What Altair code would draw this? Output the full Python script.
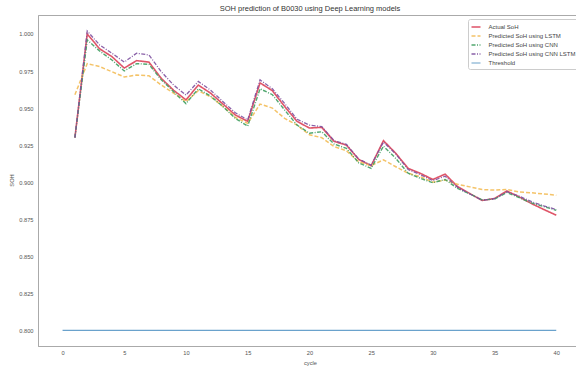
import altair as alt
import pandas as pd

# Battery B0030: measured state of health and three model predictions per cycle
cycles = list(range(1, 41))

actual_soh = [0.930, 1.000, 0.990, 0.9847, 0.977, 0.982, 0.981, 0.970, 0.962, 0.9555,
              0.9655, 0.960, 0.9527, 0.9453, 0.941, 0.967, 0.9617, 0.951, 0.941, 0.9365,
              0.937, 0.9275, 0.925, 0.9153, 0.911, 0.928, 0.9194, 0.9093, 0.9059, 0.9018,
              0.9054, 0.897, 0.8923, 0.8876, 0.889, 0.894, 0.890, 0.8855, 0.8815, 0.8777]

lstm_soh = [0.959, 0.980, 0.978, 0.9745, 0.971, 0.9723, 0.9718, 0.9655, 0.960, 0.9543,
            0.9617, 0.9576, 0.951, 0.9437, 0.9397, 0.9527, 0.950, 0.943, 0.9385, 0.932,
            0.930, 0.924, 0.9212, 0.9137, 0.9112, 0.915, 0.9104, 0.906, 0.9036, 0.900,
            0.9014, 0.8986, 0.8968, 0.895, 0.8946, 0.895, 0.8934, 0.8928, 0.892, 0.8912]

cnn_soh = [0.930, 0.996, 0.9885, 0.9824, 0.975, 0.980, 0.9795, 0.969, 0.961, 0.953,
           0.963, 0.958, 0.951, 0.943, 0.9378, 0.963, 0.959, 0.9486, 0.9385, 0.933,
           0.934, 0.9257, 0.9228, 0.913, 0.9093, 0.9243, 0.916, 0.906, 0.9025, 0.8996,
           0.9018, 0.8957, 0.892, 0.888, 0.8885, 0.893, 0.8895, 0.886, 0.8835, 0.881]

cnn_lstm_soh = [0.930, 1.002, 0.9926, 0.987, 0.981, 0.987, 0.9858, 0.9745, 0.9655, 0.9588,
                0.968, 0.962, 0.9543, 0.9468, 0.942, 0.969, 0.963, 0.953, 0.9424, 0.9385,
                0.9375, 0.928, 0.9255, 0.9155, 0.9115, 0.927, 0.919, 0.9085, 0.905, 0.901,
                0.904, 0.8965, 0.892, 0.8878, 0.8888, 0.8935, 0.8905, 0.8868, 0.884, 0.8815]

threshold_cycles = [0, 40]
threshold_soh = [0.8, 0.8]

series_names = ["Actual SoH", "Predicted SoH using LSTM", "Predicted SoH using CNN",
                "Predicted SoH using CNN LSTM", "Threshold"]
series_colors = ["#dc4258", "#f3bd58", "#3f9e60", "#7d509e", "#5a98c6"]
series_dashes = [[1, 0], [4, 2], [4, 1.5, 1, 1.5], [4, 1.5, 1, 1.5], [1, 0]]
series_widths = [1.6, 1.2, 1.2, 1.2, 1.2]

y_ticks = [0.800, 0.825, 0.850, 0.875, 0.900, 0.925, 0.950, 0.975, 1.000]
x_ticks = [0, 5, 10, 15, 20, 25, 30, 35, 40]

frames = []
for name, xs, ys in [
    (series_names[0], cycles, actual_soh),
    (series_names[1], cycles, lstm_soh),
    (series_names[2], cycles, cnn_soh),
    (series_names[3], cycles, cnn_lstm_soh),
    (series_names[4], threshold_cycles, threshold_soh),
]:
    frames.append(pd.DataFrame({"cycle": xs, "SOH": ys, "series": name}))
data = pd.concat(frames, ignore_index=True)
data["order"] = data["series"].map({n: i for i, n in enumerate(series_names)})

font = "Liberation Sans"
txt = "#555555"

legend_cfg = dict(title=None, orient="none", legendX=430, legendY=4)

chart = alt.Chart(data).mark_line(clip=True, opacity=0.9).encode(
    x=alt.X("cycle:Q",
            scale=alt.Scale(domain=[-1.99, 41.6], nice=False, zero=False),
            axis=alt.Axis(values=x_ticks, format="d", title="cycle",
                          titleX=272, titleY=13)),
    y=alt.Y("SOH:Q",
            scale=alt.Scale(domain=[0.7894, 1.0128], nice=False, zero=False),
            axis=alt.Axis(values=y_ticks, format=".3f", title="SOH",
                          titleX=-24, titleY=165)),
    color=alt.Color("series:N",
                    scale=alt.Scale(domain=series_names, range=series_colors),
                    legend=alt.Legend(**legend_cfg)),
    strokeDash=alt.StrokeDash("series:N",
                              scale=alt.Scale(domain=series_names, range=series_dashes),
                              legend=alt.Legend(**legend_cfg)),
    strokeWidth=alt.StrokeWidth("series:N",
                                scale=alt.Scale(domain=series_names, range=series_widths),
                                legend=None),
    detail="order:O",
).properties(
    width=538,
    height=331,
    title=alt.TitleParams(
        "SOH prediction of B0030 using Deep Learning models",
        fontSize=7.5, fontWeight="normal", color="#333333", font=font,
        anchor="middle", offset=3, dx=3,
    ),
    autosize=alt.AutoSizeParams(type="none"),
    padding={"left": 38, "top": 15, "right": 0, "bottom": 23},
).configure(
    background="white",
).configure_view(
    stroke="#aaaaaa", strokeWidth=1,
).configure_axis(
    grid=False, ticks=False, domainColor="#aaaaaa", domainWidth=1,
    labelFont=font, labelFontSize=5.7, labelColor=txt,
    titleFont=font, titleFontSize=5.7, titleFontWeight="normal", titleColor=txt,
).configure_axisY(
    labelPadding=5,
).configure_axisX(
    labelPadding=3,
).configure_legend(
    fillColor="white", strokeColor="#cccccc", padding=2.5, cornerRadius=2,
    labelFont=font, labelFontSize=6, labelColor="#444444",
    symbolType="stroke", symbolSize=81, symbolStrokeWidth=1.4,
    rowPadding=-1.5, labelOffset=7,
)

chart.save("out.html", embed_options={"renderer": "svg", "actions": False})
